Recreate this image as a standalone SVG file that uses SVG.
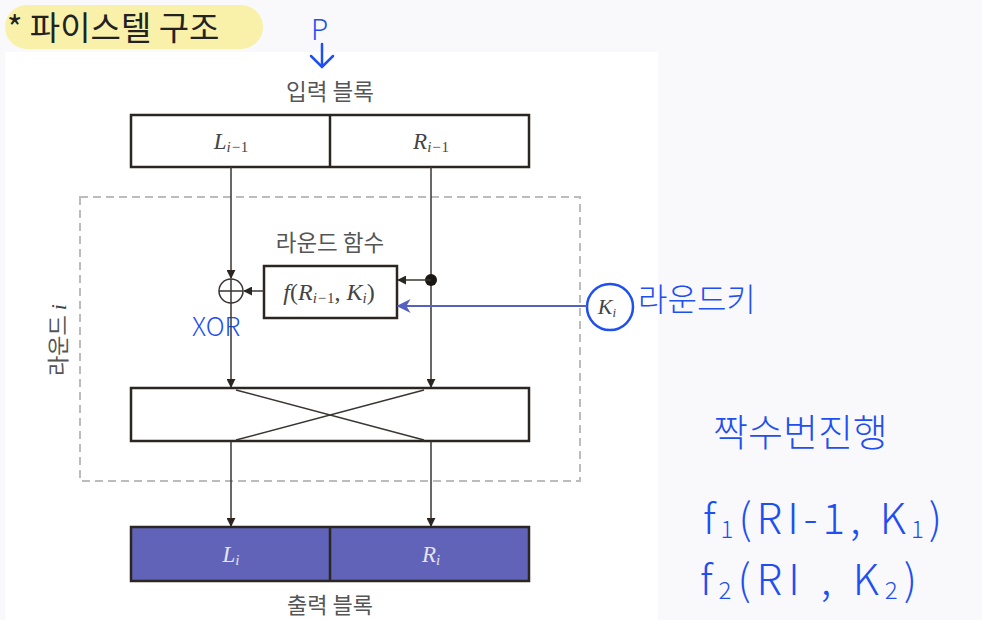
<svg xmlns="http://www.w3.org/2000/svg" width="982" height="620" viewBox="0 0 982 620">
<defs>
<style>
.blk{fill:#fff;stroke:#2b2622;stroke-width:2.5}
.ln{stroke:#3a3532;stroke-width:1.5;fill:none}
.ko{font-family:"Noto Sans CJK KR","Noto Sans",sans-serif;fill:#555}
.m{font-family:"Liberation Serif",serif;font-style:italic;fill:#444}
.n{font-style:normal}
.hand{font-family:"Noto Sans CJK KR","Noto Sans",sans-serif;fill:#1f4ff0;font-weight:300}
</style>
<marker id="ah" viewBox="0 0 10 10" refX="9" refY="5" markerWidth="6" markerHeight="6" orient="auto"><path d="M0,0 L10,5 L0,10 z" fill="#2b2622"/></marker>
<marker id="bh" viewBox="0 0 10 10" refX="9" refY="5" markerWidth="7" markerHeight="7" orient="auto"><path d="M0,0 L10,5 L0,10 L3,5 z" fill="#5560c0"/></marker>
</defs>
<rect width="982" height="620" fill="#f9f9fb"/>
<rect x="5" y="52" width="653" height="568" fill="#fff"/>
<g id="title">
<rect x="5" y="5" width="258" height="44" rx="22" fill="#f9f1a9"/>
<text x="7" y="40" font-family="Noto Sans CJK KR,sans-serif" font-size="33" fill="#222">* 파이스텔 구조</text>
</g>
<g id="p-note">
<text x="311" y="40" class="hand" font-size="28">P</text>
<path d="M322,44 V67 M311,56 L322,67 L333,56" stroke="#1f4ff0" stroke-width="2.5" fill="none" stroke-linecap="round"/>
</g>
<g id="input">
<text x="330" y="100" class="ko" font-size="22.5" text-anchor="middle">입력 블록</text>
<rect x="131" y="115" width="398" height="52" class="blk"/>
<line x1="330" y1="115" x2="330" y2="167" stroke="#2b2622" stroke-width="2.5"/>
<text x="231" y="149" class="m" font-size="23" text-anchor="middle">L<tspan font-size="15" dy="3">i−<tspan class="n">1</tspan></tspan></text>
<text x="431" y="149" class="m" font-size="23" text-anchor="middle">R<tspan font-size="15" dy="3">i−<tspan class="n">1</tspan></tspan></text>
</g>
<g id="round">
<rect x="80" y="197" width="500" height="284" fill="none" stroke="#bcbcbc" stroke-width="2" stroke-dasharray="8,5"/>
<text transform="translate(66,340) rotate(-90)" class="ko" font-size="22" text-anchor="middle">라운드 <tspan class="m" font-size="22">i</tspan></text>
</g>
<g id="func">
<text x="330" y="251" class="ko" font-size="22.5" text-anchor="middle">라운드 함수</text>
<rect x="264" y="266" width="133" height="52" class="blk"/>
<text x="329" y="300" class="m" font-size="24" text-anchor="middle">f<tspan class="n">(</tspan>R<tspan font-size="15" dy="3">i−<tspan class="n">1</tspan></tspan><tspan dy="-3" class="n">, </tspan>K<tspan font-size="15" dy="3">i</tspan><tspan dy="-3" class="n">)</tspan></text>
</g>
<g id="xor">
<circle cx="231" cy="291" r="12" fill="#fff" stroke="#3a3532" stroke-width="1.5"/>
<path d="M219,291 H243 M231,279 V303" stroke="#3a3532" stroke-width="1.5"/>
<text x="192" y="336" class="hand" font-size="26">XOR</text>
</g>
<g id="key">
<circle cx="610" cy="307" r="23" fill="#fff" stroke="#1f4ff0" stroke-width="2.5"/>
<text x="607" y="314" class="m" font-size="22" text-anchor="middle">K<tspan font-size="13" dy="3">i</tspan></text>
<text x="638" y="311" class="hand" font-size="32">라운드키</text>
</g>
<g id="mix">
<rect x="131" y="388" width="398" height="53" class="blk"/>
<path d="M236,390 L424,440 M424,390 L236,440" class="ln"/>
</g>
<g id="output">
<rect x="131" y="527" width="398" height="54" fill="#6063b8" stroke="#2b2622" stroke-width="2.5"/>
<line x1="330" y1="527" x2="330" y2="581" stroke="#2b2622" stroke-width="2.5"/>
<text x="231" y="562" class="m" font-size="23" text-anchor="middle" style="fill:#e4e4f4">L<tspan font-size="15" dy="3">i</tspan></text>
<text x="431" y="562" class="m" font-size="23" text-anchor="middle" style="fill:#e4e4f4">R<tspan font-size="15" dy="3">i</tspan></text>
<text x="330" y="613" class="ko" font-size="22" text-anchor="middle">출력 블록</text>
</g>
<g id="notes">
<text x="713" y="446" class="hand" font-size="38">짝수번진행</text>
<text x="703" y="534" class="hand" font-size="42" letter-spacing="5">f<tspan font-size="24" dy="4">1</tspan><tspan dy="-4">(RI-1, K</tspan><tspan font-size="24" dy="4">1</tspan><tspan dy="-4">)</tspan></text>
<text x="700" y="595" class="hand" font-size="42" letter-spacing="6">f<tspan font-size="24" dy="4">2</tspan><tspan dy="-4">(RI , K</tspan><tspan font-size="24" dy="4">2</tspan><tspan dy="-4">)</tspan></text>
</g>
<g id="connectors">
<path d="M231,167 V278" class="ln" marker-end="url(#ah)"/>
<path d="M231,303 V387" class="ln" marker-end="url(#ah)"/>
<path d="M431,167 V387" class="ln" marker-end="url(#ah)"/>
<circle cx="431" cy="280" r="6" fill="#1a1614"/>
<path d="M431,280 H398" class="ln" marker-end="url(#ah)"/>
<path d="M264,291 H244" class="ln" marker-end="url(#ah)"/>
<path d="M587,306 H398" stroke="#5560c0" stroke-width="2" fill="none" marker-end="url(#bh)"/>
<path d="M231,441 V526" class="ln" marker-end="url(#ah)"/>
<path d="M431,441 V526" class="ln" marker-end="url(#ah)"/>
</g>
</svg>
